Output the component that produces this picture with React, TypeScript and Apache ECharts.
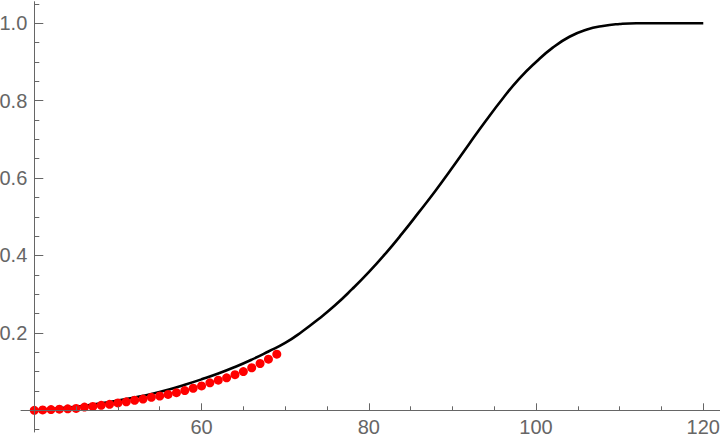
import React, { useEffect, useRef } from "react";
import * as echarts from "echarts";

// Black curve (x, y)
const curveX = [40, 42, 44, 46, 48, 50, 52, 54, 56, 58, 60, 62, 64, 66, 68, 70, 72, 74, 76, 78, 80, 82, 84, 86, 88, 90, 92, 94, 96, 98, 100, 102, 104, 106, 108, 110, 112, 116, 120];
const curveY = [0.0, 0.003, 0.007, 0.012, 0.018, 0.025, 0.033, 0.042, 0.053, 0.066, 0.08, 0.095, 0.112, 0.131, 0.152, 0.174, 0.203, 0.236, 0.272, 0.313, 0.357, 0.405, 0.457, 0.512, 0.568, 0.627, 0.688, 0.748, 0.805, 0.857, 0.9, 0.937, 0.965, 0.983, 0.993, 0.998, 1.0, 1.0, 1.0];

// Red points
const dotX = [40, 41, 42, 43, 44, 45, 46, 47, 48, 49, 50, 51, 52, 53, 54, 55, 56, 57, 58, 59, 60, 61, 62, 63, 64, 65, 66, 67, 68, 69];
const dotY = [0.0, 0.001, 0.002, 0.003, 0.004, 0.005, 0.0085, 0.01, 0.013, 0.0155, 0.019, 0.022, 0.026, 0.029, 0.0335, 0.037, 0.041, 0.0455, 0.051, 0.057, 0.063, 0.071, 0.078, 0.084, 0.092, 0.1, 0.11, 0.121, 0.132, 0.145];

// Ticks
const xMajorTicks = [60, 80, 100, 120];
const xMinorTicks = [45, 50, 55, 65, 70, 75, 85, 90, 95, 105, 110, 115];
const yMajorTicks = [0.2, 0.4, 0.6, 0.8, 1.0];
const yMinorTicks = [-0.05, 0.05, 0.1, 0.15, 0.25, 0.3, 0.35, 0.45, 0.5, 0.55, 0.65, 0.7, 0.75, 0.85, 0.9, 0.95, 1.05];

const X_MIN = 38.41;
const X_MAX = 122.0;
const Y_MIN = -0.056;
const Y_MAX = 1.0556;

const AXIS_COLOR = "#666666";
const LABEL_FONT = "'Liberation Sans', Arial, sans-serif";

export default function App() {
  const ref = useRef<HTMLDivElement>(null);

  useEffect(() => {
    document.body.style.margin = "0";
    if (!ref.current) return;
    const chart = echarts.init(ref.current, undefined, { renderer: "svg" });

    const lineStyle = { color: AXIS_COLOR, width: 1 };
    const labelStyle = {
      color: AXIS_COLOR,
      fontSize: 20,
      fontFamily: LABEL_FONT,
    };
    // x axis sits at y = 0, which is 21.7px above the grid's bottom edge
    const xOffset = -21.7;

    chart.setOption({
      animation: false,
      backgroundColor: "#ffffff",
      grid: { left: 21, right: 0, top: 1.7, bottom: 8, containLabel: false, outerBoundsMode: "none" },
      xAxis: [
        {
          type: "value",
          min: X_MIN,
          max: X_MAX,
          position: "bottom",
          offset: xOffset,
          z: 10,
          axisLine: { show: true, onZero: false, lineStyle },
          axisTick: { show: true, inside: true, length: 7, customValues: xMajorTicks, lineStyle },
          axisLabel: { show: true, customValues: xMajorTicks, margin: 7, hideOverlap: false, ...labelStyle },
          splitLine: { show: false },
        },
        {
          type: "value",
          min: X_MIN,
          max: X_MAX,
          position: "bottom",
          offset: xOffset,
          z: 10,
          axisLine: { show: false, onZero: false },
          axisTick: { show: true, inside: true, length: 4, customValues: xMinorTicks, lineStyle },
          axisLabel: { show: false },
          splitLine: { show: false },
        },
      ],
      yAxis: [
        {
          type: "value",
          min: Y_MIN,
          max: Y_MAX,
          position: "left",
          offset: -13.3,
          z: 10,
          axisLine: { show: true, onZero: false, lineStyle },
          axisTick: { show: true, inside: true, length: 9, customValues: yMajorTicks, lineStyle },
          axisLabel: {
            show: true,
            customValues: yMajorTicks,
            margin: 7,
            formatter: (v: number) => v.toFixed(1),
            ...labelStyle,
          },
          splitLine: { show: false },
        },
        {
          type: "value",
          min: Y_MIN,
          max: Y_MAX,
          position: "left",
          offset: -13.3,
          z: 10,
          axisLine: { show: false, onZero: false },
          axisTick: { show: true, inside: true, length: 5, customValues: yMinorTicks, lineStyle },
          axisLabel: { show: false },
          splitLine: { show: false },
        },
      ],
      series: [
        {
          type: "line",
          xAxisIndex: 0,
          yAxisIndex: 0,
          data: curveX.map((x, i) => [x, curveY[i]]),
          symbol: "none",
          showSymbol: false,
          smooth: 0.5,
          lineStyle: { color: "#000000", width: 2.6 },
          z: 2,
        },
        {
          type: "scatter",
          xAxisIndex: 0,
          yAxisIndex: 0,
          data: dotX.map((x, i) => [x, dotY[i]]),
          symbol: "circle",
          symbolSize: 9,
          itemStyle: { color: "#ff0000", opacity: 1 },
          z: 3,
        },
      ],
    });

    return () => {
      chart.dispose();
    };
  }, []);

  return <div ref={ref} style={{ width: 720, height: 440 }} />;
}
